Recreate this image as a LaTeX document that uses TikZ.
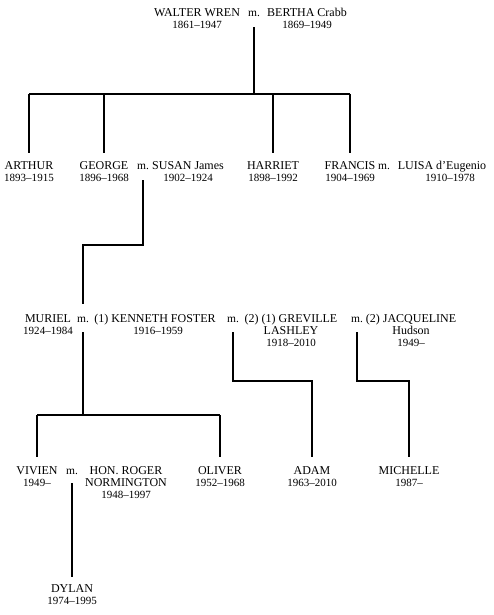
\documentclass[tikz,border=0pt]{standalone}
\usepackage{fontspec}
\setmainfont{Liberation Serif}
\newcommand\dt[1]{{\fontsize{11}{12}\selectfont #1}}
\begin{document}
\begin{tikzpicture}[x=1pt,y=-1pt,
  person/.style={align=center,anchor=base,inner sep=3pt,font=\fontsize{12}{12}\selectfont},
  marr/.style={anchor=base,inner sep=3pt,font=\fontsize{11.5}{12}\selectfont},
  line/.style={line width=1.4pt},
  kid/.style={line,shorten >=5pt},
  fromm/.style={line,shorten <=7pt}]
\useasboundingbox (0,0) rectangle (493,615);
\fill[white] (0,0) rectangle (493,615);
% generation 1 (anchor = baseline of last line)
\node[person] (walter) at (197,29) {WALTER WREN\\\dt{1861–1947}};
\node[marr] (m1) at (254,17) {m.};
\node[person] (bertha) at (307,29) {BERTHA Crabb\\\dt{1869–1949}};
% generation 2
\node[person] (arthur) at (29,181) {ARTHUR\\\dt{1893–1915}};
\node[person] (george) at (104,181) {GEORGE\\\dt{1896–1968}};
\node[marr] (m2) at (143,169) {m.};
\node[person] (susan) at (188,181) {SUSAN James\\\dt{1902–1924}};
\node[person] (harriet) at (273,181) {HARRIET\\\dt{1898–1992}};
\node[person] (francis) at (350,181) {FRANCIS\\\dt{1904–1969}};
\node[marr] (m2b) at (384,169) {m.};
\node[person] (luisa) at (442,181) {LUISA d’Eugenio\\\hspace*{16pt}\dt{1910–1978}};
% generation 3
\node[person] (muriel) at (48,334) {MURIEL\\\dt{1924–1984}};
\node[marr] (m3) at (83,322) {m.};
\node[person] (kenneth) at (155,334) {(1) KENNETH FOSTER\\\hspace*{6pt}\dt{1916–1959}};
\node[marr] (m4) at (233,322) {m.};
\node[person] (greville) at (291,346) {(2) (1) GREVILLE\\LASHLEY\\\dt{1918–2010}};
\node[marr] (m5) at (357,322) {m.};
\node[person] (jacq) at (411,346) {(2) JACQUELINE\\Hudson\\\dt{1949–}};
% generation 4
\node[person] (vivien) at (37,486) {VIVIEN\\\dt{1949–}};
\node[marr] (m6) at (72,474) {m.};
\node[person] (roger) at (126,498) {HON. ROGER\\NORMINGTON\\\dt{1948–1997}};
\node[person] (oliver) at (220,486) {OLIVER\\\dt{1952–1968}};
\node[person] (adam) at (312,486) {ADAM\\\dt{1963–2010}};
\node[person] (michelle) at (409,486) {MICHELLE\\\dt{1987–}};
% generation 5
\node[person] (dylan) at (72,604) {DYLAN\\\dt{1974–1995}};
% connectors
\coordinate (b1) at (254,94);
\draw[fromm] (m1.south) -- (b1);
\draw[line] (b1 -| arthur) -- (b1 -| francis);
\foreach \k in {arthur,george,harriet,francis}
  \draw[kid] (b1 -| \k) -- (\k.north);
\coordinate (e2) at (83,245);
\draw[line,shorten <=8pt,shorten >=9pt] (m2.south) |- (e2) -- (m3.north);
\coordinate (b3) at (83,415);
\draw[fromm] (m3.south) -- (b3);
\draw[line] (b3 -| vivien) -- (b3 -| oliver);
\foreach \k in {vivien,oliver}
  \draw[kid,shorten >=6pt] (b3 -| \k) -- (\k.north);
\coordinate (e4) at (312,381);
\draw[line,shorten <=7pt,shorten >=6pt] (m4.south) |- (e4) -- (adam.north);
\coordinate (e5) at (409,381);
\draw[line,shorten <=7pt,shorten >=6pt] (m5.south) |- (e5) -- (michelle.north);
\draw[line,shorten <=6pt,shorten >=4pt] (m6.south) -- (dylan.north);
\end{tikzpicture}
\end{document}
